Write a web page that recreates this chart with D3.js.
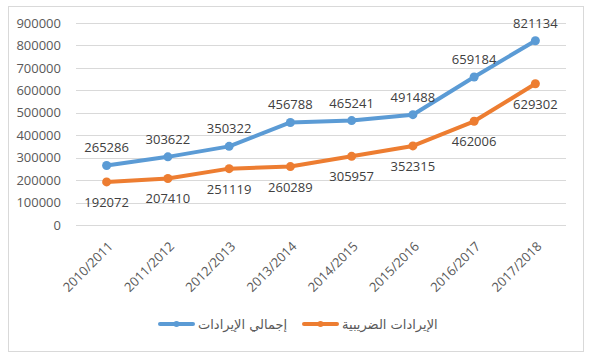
<!DOCTYPE html>
<html>
<head>
<meta charset="utf-8">
<script src="https://cdn.jsdelivr.net/npm/d3@7"></script>
<style>
  body { margin: 0; background: #fff; }
  svg { display: block; }
</style>
</head>
<body>
<svg width="593" height="362"></svg>
<script>
const years = ['2010/2011', '2011/2012', '2012/2013', '2013/2014', '2014/2015', '2015/2016', '2016/2017', '2017/2018'];
const totalRevenue = [265286, 303622, 350322, 456788, 465241, 491488, 659184, 821134];
const taxRevenue = [192072, 207410, 251119, 260289, 305957, 352315, 462006, 629302];
const yTicks = [0, 100000, 200000, 300000, 400000, 500000, 600000, 700000, 800000, 900000];
const seriesNames = ['إجمالي الإيرادات', 'الإيرادات الضريبية'];

const series = [
  { name: seriesNames[0], values: totalRevenue, color: '#5b9bd5', labelPos: 'above' },
  { name: seriesNames[1], values: taxRevenue, color: '#ed7d31', labelPos: 'below' }
];

const svg = d3.select('svg');
const font = '"Open Sans", "DejaVu Sans", sans-serif';

// chart frame
svg.append('rect')
  .attr('x', 8.5).attr('y', 6.5)
  .attr('width', 575).attr('height', 345)
  .attr('fill', '#fff')
  .attr('stroke', '#d9d9d9');

const plotLeft = 76, plotRight = 566, plotTop = 23, plotBottom = 225;

const x = d3.scaleBand()
  .domain(years)
  .range([plotLeft, plotRight]);

const y = d3.scaleLinear()
  .domain([0, 900000])
  .range([plotBottom, plotTop]);

const g = svg.append('g');

// gridlines
g.selectAll('line.grid')
  .data(yTicks)
  .enter()
  .append('line')
  .attr('class', 'grid')
  .attr('x1', plotLeft).attr('x2', plotRight)
  .attr('y1', d => Math.round(y(d)) + 0.5)
  .attr('y2', d => Math.round(y(d)) + 0.5)
  .attr('stroke', '#d9d9d9');

const yAxis = d3.axisLeft(y).tickValues(yTicks).tickSize(0).tickPadding(15).tickFormat(d3.format('d'));
g.append('g')
  .attr('transform', `translate(${plotLeft}, 0)`)
  .call(yAxis)
  .call(a => a.select('.domain').remove())
  .selectAll('text')
  .attr('fill', '#595959')
  .style('font-family', font)
  .style('font-size', '13px');

const xAxis = d3.axisBottom(x).tickSize(0).tickPadding(0);
g.append('g')
  .attr('transform', `translate(0, ${plotBottom})`)
  .call(xAxis)
  .call(a => a.select('.domain').remove())
  .selectAll('text')
  .attr('fill', '#595959')
  .style('font-family', font)
  .style('font-size', '13px')
  .attr('text-anchor', 'end')
  .attr('dy', '0.35em')
  .attr('transform', 'translate(4, 19) rotate(-45)');

const cx = d => x(d) + x.bandwidth() / 2;

const line = d3.line()
  .x((d, i) => cx(years[i]))
  .y(d => y(d));

series.forEach(s => {
  g.append('path')
    .datum(s.values)
    .attr('d', line)
    .attr('fill', 'none')
    .attr('stroke', s.color)
    .attr('stroke-width', 4)
    .attr('stroke-linejoin', 'round')
    .attr('stroke-linecap', 'round');

  g.selectAll(null)
    .data(s.values)
    .enter()
    .append('circle')
    .attr('cx', (d, i) => cx(years[i]))
    .attr('cy', d => y(d))
    .attr('r', 4.5)
    .attr('fill', s.color);

  g.selectAll(null)
    .data(s.values)
    .enter()
    .append('text')
    .attr('x', (d, i) => cx(years[i]))
    .attr('y', d => s.labelPos === 'above' ? y(d) - 13 : y(d) + 25)
    .attr('text-anchor', 'middle')
    .attr('fill', '#404040')
    .style('font-family', font)
    .style('font-size', '13px')
    .text(d => d);
});

// legend
const legendItems = [
  { name: seriesNames[0], color: series[0].color, x: 160 },
  { name: seriesNames[1], color: series[1].color, x: 304 }
];
const legendY = 324;
const lg = svg.append('g');
legendItems.forEach(l => {
  lg.append('line')
    .attr('x1', l.x).attr('x2', l.x + 33)
    .attr('y1', legendY).attr('y2', legendY)
    .attr('stroke', l.color)
    .attr('stroke-width', 4)
    .attr('stroke-linecap', 'round');
  lg.append('circle')
    .attr('cx', l.x + 16.5).attr('cy', legendY)
    .attr('r', 3)
    .attr('fill', l.color);
  lg.append('text')
    .attr('x', l.x + 38)
    .attr('y', legendY + 5)
    .attr('fill', '#595959')
    .style('font-family', '"DejaVu Sans", sans-serif')
    .style('font-size', '13px')
    .text(l.name);
});
</script>
</body>
</html>
